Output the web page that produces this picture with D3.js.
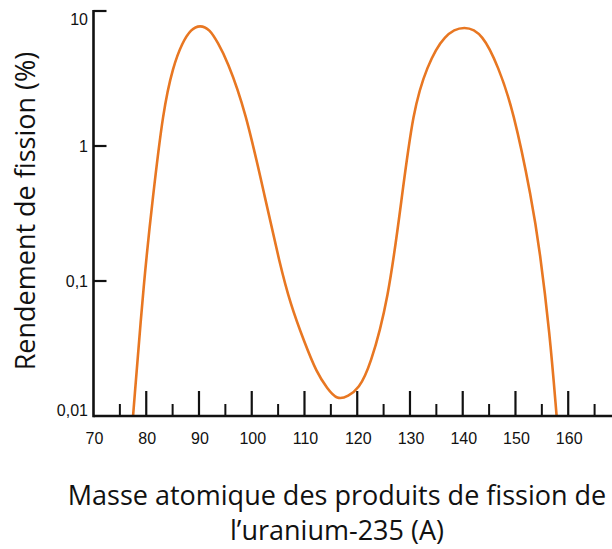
<!DOCTYPE html>
<html>
<head>
<meta charset="utf-8">
<script src="https://cdn.jsdelivr.net/npm/d3@7"></script>
<style>
  body { margin: 0; background: #fff; }
  svg { display: block; }
</style>
</head>
<body>
<div id="chart"></div>
<script>
// mass number A
var massNumbers = [77.5, 79.6, 81.2, 83.2, 85.1, 86.8, 88.5, 90.2, 92.0, 93.6, 95.3, 98.8,
	102.6, 105.3, 107.3, 110.0, 112.3, 114.3, 116.2, 118.3, 120.3, 122.4, 125.9, 128.4,
	130.6, 133.2, 136.5, 140.4, 143.8, 146.7, 149.6, 153.1, 154.6, 156.5, 157.8];
// fission yield in %
var yields = [0.01, 0.107, 0.40, 1.85, 3.9, 5.8, 7.36, 7.87, 7.36, 5.8, 4.34, 1.85,
	0.40, 0.135, 0.068, 0.035, 0.021, 0.016, 0.0131, 0.014, 0.016, 0.023, 0.072, 0.40,
	1.85, 3.9, 6.76, 7.87, 6.76, 3.9, 1.85, 0.40, 0.169, 0.041, 0.01];

var xTickLabels = [70, 80, 90, 100, 110, 120, 130, 140, 150, 160];
var xMajorTicks = [80, 90, 100, 110, 120, 130, 140, 150, 160];
var xMinorTicks = [75, 85, 95, 105, 115, 125, 135, 145, 155, 165];
var yTickValues = [10, 1, 0.1, 0.01];
var yTickLabels = ['10', '1', '0,1', '0,01'];

var xTitle = ['Masse atomique des produits de fission de', 'l\u2019uranium-235 (A)'];
var yTitle = 'Rendement de fission (%)';

var width = 612, height = 549;
var margin = { top: 11, right: 0, bottom: 133, left: 93.5 };

var x = d3.scaleLinear().domain([70, 168.3]).range([margin.left, width - margin.right]);
var y = d3.scaleLog().domain([0.01, 10]).range([height - margin.bottom, margin.top]);

var svg = d3.select('#chart').append('svg')
	.attr('width', width)
	.attr('height', height);

var data = massNumbers.map((a, i) => ({ a: a, v: yields[i] }));

// clip the curve to the plot area
svg.append('clipPath').attr('id', 'plot')
	.append('rect')
	.attr('x', margin.left).attr('y', margin.top)
	.attr('width', width - margin.left).attr('height', y(0.01) - margin.top);

// smooth curve through the read points
var line = d3.line()
	.x(d => x(d.a))
	.y(d => y(d.v))
	.curve(d3.curveBasis);

svg.append('path')
	.datum(data)
	.attr('clip-path', 'url(#plot)')
	.attr('fill', 'none')
	.attr('stroke', '#e87722')
	.attr('stroke-width', 2.6)
	.attr('d', line);

// axes
var axisColor = '#111';
var y0 = y(0.01);

// x ticks pointing up
svg.append('g').selectAll('line.major')
	.data(xMajorTicks).enter().append('line')
	.attr('x1', d => x(d)).attr('x2', d => x(d))
	.attr('y1', y0).attr('y2', y0 - 25)
	.attr('stroke', axisColor).attr('stroke-width', 2.2);

svg.append('g').selectAll('line.minor')
	.data(xMinorTicks).enter().append('line')
	.attr('x1', d => x(d)).attr('x2', d => x(d))
	.attr('y1', y0).attr('y2', y0 - 12)
	.attr('stroke', axisColor).attr('stroke-width', 2);

// y ticks pointing right
svg.append('g').selectAll('line')
	.data(yTickValues.slice(0, 3)).enter().append('line')
	.attr('x1', margin.left).attr('x2', margin.left + 13)
	.attr('y1', d => y(d)).attr('y2', d => y(d))
	.attr('stroke', axisColor).attr('stroke-width', 2.2);

svg.append('line')
	.attr('x1', margin.left).attr('x2', width)
	.attr('y1', y0).attr('y2', y0)
	.attr('stroke', axisColor).attr('stroke-width', 2.6);

svg.append('line')
	.attr('x1', margin.left).attr('x2', margin.left)
	.attr('y1', margin.top - 1).attr('y2', y0 + 1.3)
	.attr('stroke', axisColor).attr('stroke-width', 2.6);

// tick labels
svg.append('g')
	.style('font', '16px "Liberation Sans", Arial, sans-serif')
	.attr('fill', '#111')
	.attr('text-anchor', 'middle')
	.selectAll('text')
	.data(xTickLabels).enter().append('text')
	.attr('x', d => x(d) + 1)
	.attr('y', y0 + 28)
	.text(d => d);

svg.append('g')
	.style('font', '16px "Liberation Sans", Arial, sans-serif')
	.attr('fill', '#111')
	.attr('text-anchor', 'end')
	.selectAll('text')
	.data(yTickValues).enter().append('text')
	.attr('x', 88)
	.attr('y', d => Math.min(Math.max(y(d) + 6, 25), y0))
	.text((d, i) => yTickLabels[i]);

// axis titles
var title = svg.append('g')
	.style('font', '27px "Open Sans", sans-serif')
	.attr('fill', '#111');

title.append('text')
	.attr('text-anchor', 'middle')
	.attr('x', 337)
	.attr('y', 505)
	.text(xTitle[0]);

title.append('text')
	.attr('text-anchor', 'middle')
	.attr('x', 337)
	.attr('y', 540)
	.text(xTitle[1]);

title.append('text')
	.attr('text-anchor', 'middle')
	.attr('transform', 'translate(35,211) rotate(-90)')
	.text(yTitle);
</script>
</body>
</html>
